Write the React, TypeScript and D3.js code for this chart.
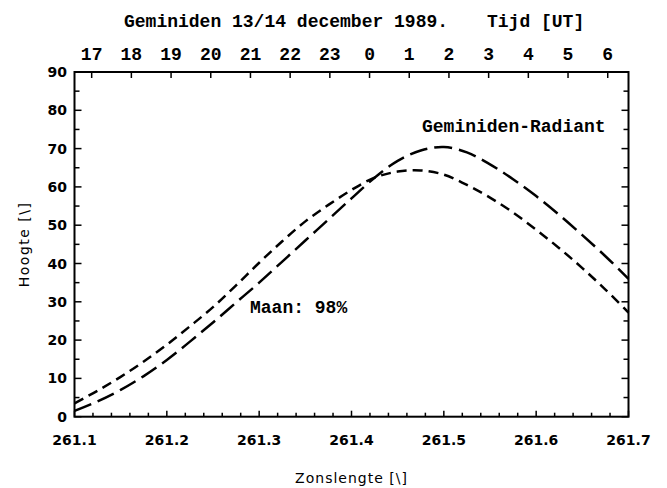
import React from "react";
import * as d3 from "d3";

// solar longitude grid (deg) shared by both curves
const lons = [
  261.1, 261.125, 261.15, 261.175, 261.2, 261.225, 261.25, 261.275, 261.3,
  261.325, 261.35, 261.375, 261.4, 261.425, 261.45, 261.475, 261.5, 261.525,
  261.55, 261.575, 261.6, 261.625, 261.65, 261.675, 261.7,
];
// altitude of the Geminid radiant (long dashes)
const radiant = [
  1.5, 4.0, 7.0, 10.6, 14.8, 19.6, 24.6, 29.8, 35.0, 40.5, 46.0, 51.5, 57.0,
  62.4, 66.8, 69.5, 70.4, 69.0, 65.9, 62.0, 57.6, 52.7, 47.4, 41.9, 36.0,
];
// altitude of the moon, 98% lit (short dashes)
const maan = [
  3.5, 6.8, 10.4, 14.4, 18.8, 23.6, 28.6, 34.3, 40.2, 45.8, 51.0, 55.3, 59.2,
  62.4, 64.0, 64.3, 63.2, 60.5, 57.2, 53.3, 48.8, 44.0, 38.8, 33.2, 27.2,
];

const xTicks = [261.1, 261.2, 261.3, 261.4, 261.5, 261.6, 261.7];
const yTicks = [0, 10, 20, 30, 40, 50, 60, 70, 80, 90];
const hourLabels = [17, 18, 19, 20, 21, 22, 23, 0, 1, 2, 3, 4, 5, 6];
// solar longitude at 17h UT and at 6h UT
const hourLon = [261.1186, 261.6775];

const W = 667, H = 488;
const m = { left: 74.5, right: 628.5, top: 72, bottom: 416.7 };
const mono = "'Liberation Mono', 'DejaVu Sans Mono', monospace";
const sans = "'DejaVu Sans', sans-serif";

export default function App() {
  const x = d3.scaleLinear().domain([261.1, 261.7]).range([m.left, m.right]);
  const y = d3.scaleLinear().domain([0, 90]).range([m.bottom, m.top]);
  const hx = d3.scaleLinear().domain([0, hourLabels.length - 1])
    .range([x(hourLon[0]), x(hourLon[1])]);

  const line = d3.line<number>()
    .x((_, i) => x(lons[i]))
    .y(d => y(d))
    .curve(d3.curveCatmullRom);

  const xMinor = d3.range(0, 31).map(i => 261.1 + i * 0.02);
  const yMinor = d3.range(0, 19).map(i => i * 5);

  return (
    <svg width={W} height={H} style={{ position: "absolute", left: 0, top: 0, background: "#fff" }}>
      {/* title */}
      <text x={124} y={27} fontFamily={mono} fontWeight="bold" fontSize={18}>
        Geminiden 13/14 december 1989.
      </text>
      <text x={487} y={27} fontFamily={mono} fontWeight="bold" fontSize={18}>
        Tijd [UT]
      </text>

      {/* top hour axis */}
      {hourLabels.map((h, i) => (
        <g key={"h" + i}>
          <line x1={hx(i)} x2={hx(i)} y1={m.top} y2={m.top + 6} stroke="#000" strokeWidth={1.5} />
          <text x={hx(i)} y={60} textAnchor="middle" fontFamily={mono} fontWeight="bold" fontSize={18}>
            {h}
          </text>
        </g>
      ))}

      {/* bottom minor / major ticks */}
      {xMinor.map((v, i) => (
        <line key={"xm" + i} x1={x(v)} x2={x(v)} y1={m.bottom}
          y2={m.bottom - (i % 5 === 0 ? 6 : 4)} stroke="#000" strokeWidth={1.5} />
      ))}
      {xTicks.map(v => (
        <text key={"xt" + v} x={x(v)} y={445} textAnchor="middle" fontFamily={sans}
          fontWeight="bold" fontSize={14}>{v.toFixed(1)}</text>
      ))}

      {/* left & right ticks */}
      {yMinor.map(v => (
        <g key={"ym" + v}>
          <line x1={m.left} x2={m.left + (v % 10 === 0 ? 7 : 5)} y1={y(v)} y2={y(v)} stroke="#000" strokeWidth={1.5} />
          <line x1={m.right} x2={m.right - (v % 10 === 0 ? 7 : 5)} y1={y(v)} y2={y(v)} stroke="#000" strokeWidth={1.5} />
        </g>
      ))}
      {yTicks.map(v => (
        <text key={"yt" + v} x={67} y={y(v)} dy="0.36em" textAnchor="end" fontFamily={sans}
          fontWeight="bold" fontSize={14}>{v}</text>
      ))}

      {/* frame */}
      <rect x={m.left} y={m.top} width={m.right - m.left} height={m.bottom - m.top}
        fill="none" stroke="#000" strokeWidth={2} />

      {/* curves */}
      <path d={line(radiant) || ""} fill="none" stroke="#000" strokeWidth={2.5} strokeDasharray="18 7" />
      <path d={line(maan) || ""} fill="none" stroke="#000" strokeWidth={2.5} strokeDasharray="10 6" />

      {/* annotations */}
      <text x={422} y={132} fontFamily={mono} fontWeight="bold" fontSize={18}>Geminiden-Radiant</text>
      <text x={250} y={313} fontFamily={mono} fontWeight="bold" fontSize={18}>Maan: 98%</text>

      {/* axis titles */}
      <text x={(m.left + m.right) / 2} y={483} textAnchor="middle" fontFamily={sans} fontSize={14}
        letterSpacing={1}>
        Zonslengte [\]
      </text>
      <text transform={`translate(29,${(m.top + m.bottom) / 2}) rotate(-90)`} textAnchor="middle"
        fontFamily={sans} fontSize={14} letterSpacing={1.5}>
        Hoogte [\]
      </text>
    </svg>
  );
}
